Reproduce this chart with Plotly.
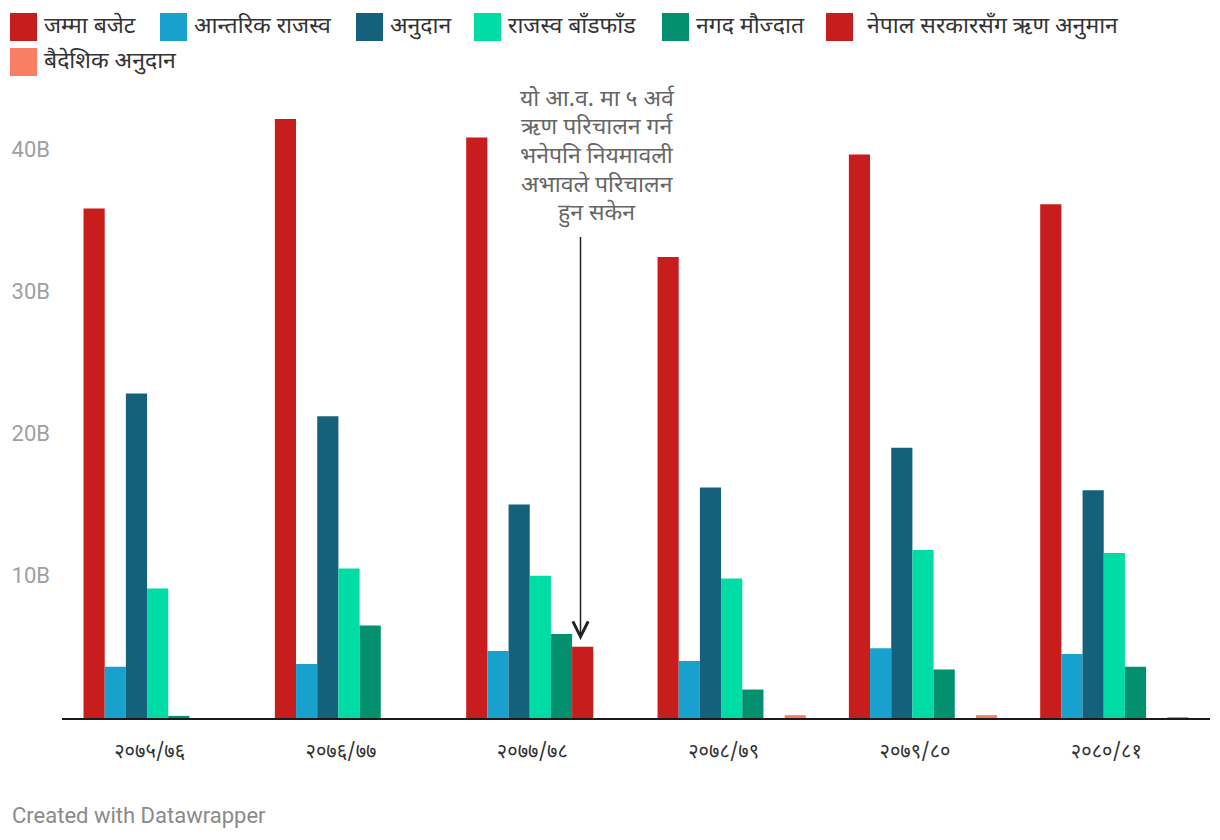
import plotly.graph_objects as go

# ---------------- data ----------------
years = ["२०७५/७६", "२०७६/७७", "२०७७/७८", "२०७८/७९", "२०७९/८०", "२०८०/८१"]

series_names = [
    "जम्मा बजेट",
    "आन्तरिक राजस्व",
    "अनुदान",
    "राजस्व बाँडफाँड",
    "नगद मौज्दात",
    "नेपाल सरकारसँग ऋण अनुमान",
    "बैदेशिक अनुदान",
]

total_budget = [35.8, 42.1, 40.8, 32.4, 39.6, 36.1]
internal_revenue = [3.6, 3.8, 4.7, 4.0, 4.9, 4.5]
grants = [22.8, 21.2, 15.0, 16.2, 19.0, 16.0]
revenue_sharing = [9.1, 10.5, 10.0, 9.8, 11.8, 11.6]
cash_balance = [0.15, 6.5, 5.9, 2.0, 3.4, 3.6]
govt_loan = [None, None, 5.0, None, None, None]
foreign_grants = [None, None, None, 0.2, 0.2, 0.07]

series_values = [total_budget, internal_revenue, grants, revenue_sharing,
                 cash_balance, govt_loan, foreign_grants]

y_ticks = [10, 20, 30, 40]
y_tick_labels = ["10B", "20B", "30B", "40B"]

note_lines = ["यो आ.व. मा ५ अर्व", "ऋण परिचालन गर्न", "भनेपनि नियमावली",
              "अभावले परिचालन", "हुन सकेन"]
credit = "Created with Datawrapper"

# ---------------- styles ----------------
colors = ["#c71e1d", "#18a1cd", "#15607a", "#00dca6", "#02906f", "#c71e1d", "#fa7e63"]
DEV = "Noto Sans Devanagari, Noto Sans, Roboto, sans-serif"
LAT = "Roboto, Noto Sans, sans-serif"

W, H = 1220, 840
L, R, T, B = 62, 10, 100, 122
plot_w = W - L - R
plot_h = H - T - B
y_max = 43.43


def px_x(px):
    return (px - L) / plot_w


def px_y(py):
    return (H - B - py) / plot_h


fig = go.Figure()
for name, vals, col in zip(series_names, series_values, colors):
    fig.add_trace(go.Bar(x=years, y=vals, name=name, marker_color=col,
                         marker_line_width=0, showlegend=False))

# manual legend (swatches + labels)
legend_pos = [(10, 27), (160, 27), (356, 27), (474, 27), (662, 27), (826, 27), (10, 62)]
legend_text_gap = [5, 5, 5, 5, 5, 12, 5]
sw_w, sw_h = 27, 28
for (lx, ly), name, col, gap in zip(legend_pos, series_names, colors, legend_text_gap):
    fig.add_shape(type="rect", xref="paper", yref="paper",
                  x0=px_x(lx), x1=px_x(lx + sw_w),
                  y0=px_y(ly + sw_h / 2), y1=px_y(ly - sw_h / 2),
                  fillcolor=col, line_width=0)
    fig.add_annotation(xref="paper", yref="paper", x=px_x(lx + sw_w + gap), y=px_y(ly),
                       text=name, showarrow=False, xanchor="left", yanchor="middle",
                       font=dict(family=DEV, size=23, color="#333333"))

# note text
note_y = [100, 128, 157, 186, 214]
for line, ny in zip(note_lines, note_y):
    fig.add_annotation(xref="paper", yref="paper", x=px_x(597), y=px_y(ny),
                       text=line, showarrow=False, xanchor="center", yanchor="middle",
                       font=dict(family=DEV, size=23, color="#666666"))

# arrow
fig.add_annotation(x=2.21, y=5.48, ax=2.21, ay=33.9, xref="x", yref="y",
                   axref="x", ayref="y", text="", showarrow=True,
                   arrowhead=5, arrowsize=2, arrowwidth=1.5, arrowcolor="#222222")

# credit
fig.add_annotation(xref="paper", yref="paper", x=px_x(10), y=px_y(815),
                   text=credit, showarrow=False, xanchor="left", yanchor="middle",
                   font=dict(family=LAT, size=22, color="#8a8a8a"))

fig.update_layout(
    width=W, height=H,
    margin=dict(l=L, r=R, t=T, b=B, autoexpand=False),
    barmode="group", bargap=0.225, bargroupgap=0,
    plot_bgcolor="white", paper_bgcolor="white",
    showlegend=False,
)
fig.update_xaxes(type="category", showgrid=False, zeroline=False,
                 showline=True, linecolor="#1a1a1a", linewidth=2,
                 ticks="", ticklabelstandoff=14, ticklabelshift=-8,
                 tickfont=dict(family=DEV, size=20, color="#333333"),
                 range=[-0.5, 5.5])
fig.update_yaxes(range=[0, y_max], showgrid=False, zeroline=False, showline=False,
                 tickvals=y_ticks, ticktext=y_tick_labels, ticks="",
                 ticklabelstandoff=11,
                 tickfont=dict(family=LAT, size=22, color="#a0a0a0"))

fig.write_html("out.html", config={"displayModeBar": False},
               post_script="document.body.style.margin='0';")
